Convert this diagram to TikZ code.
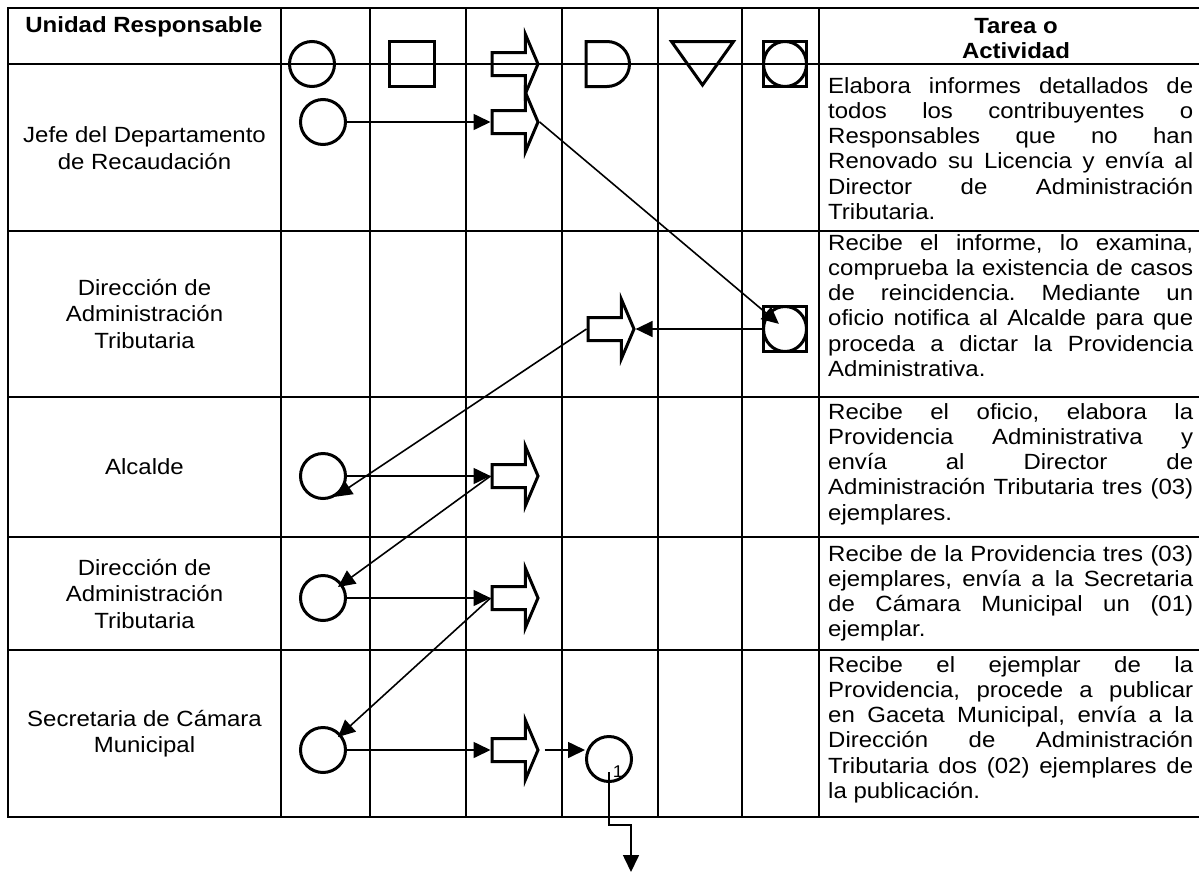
\documentclass[tikz,border=0pt]{standalone}
\usepackage{fontspec}
\setmainfont{Liberation Sans}[FakeStretch=1.09]
\usetikzlibrary{arrows.meta,shapes.arrows,calc}
\frenchspacing
\newcommand{\jline}[1]{\makebox[365pt][s]{#1}}
\newcommand{\tsize}{\fontsize{22pt}{25.3pt}\selectfont}
\newcommand{\lsize}{\fontsize{22pt}{26.5pt}\selectfont}
\tikzset{
  grid/.style={line width=2pt, line cap=rect},
  sym/.style={draw, line width=3pt},
  circ/.style={sym, circle, minimum size=45pt, inner sep=0pt},
  barrow/.style={sym, single arrow, anchor=tail, inner xsep=0pt, inner ysep=10pt,
    text height=0pt, text depth=0pt, minimum height=46pt, minimum width=57pt,
    single arrow head extend=18pt, single arrow tip angle=134},
  sqc/.style={sym, rectangle, inner sep=0pt, minimum width=43pt, minimum height=45pt,
    path picture={\draw[line width=3pt] (path picture bounding box.center)
      ellipse [x radius=21.5pt, y radius=22.5pt];}},
  conn/.style={line width=1.6pt, -{Triangle[length=17pt,width=16pt]}},
  lbl/.style={font=\lsize, align=center, inner sep=0pt},
  task/.style={font=\tsize, anchor=base west, inner sep=0pt},
  head/.style={font=\tsize\bfseries, anchor=base, inner sep=0pt},
}
\begin{document}
\begin{tikzpicture}[x=1pt, y=-1pt, line join=miter]
\useasboundingbox (0,0) rectangle (1199,873);
% table grid
\foreach \x in {8,281,370,466,562,658,742,819}
  \draw[grid] (\x,8) -- (\x,817);
\foreach \y in {8,64,231,397,537,650,817}
  \draw[grid] (8,\y) -- (1199,\y);

% header texts
\node[head] (hU) at (144,32) {Unidad Responsable};
\node[head] (hT) at (1016,33) {\begin{tabular}[t]{@{}c@{}}Tarea o\\Actividad\end{tabular}};

% header symbols
\node[circ] (h1) at (312,64) {};
\draw[line width=3pt] (389,41.5) rectangle (434,86.5);
\node[barrow] (h3) at (490.5,64) {};
\draw[line width=3pt] (586,41.5) -- (607,41.5) arc[start angle=90, end angle=-90, radius=22.5pt] -- (586,86.5) -- cycle;
\draw[line width=3pt] (671.5,41.5) -- (733.5,41.5) -- (702.5,85) -- cycle;
\node[sqc] (h6) at (785,64) {};

% row labels
\node[lbl] (l1) at (144.5,148) {Jefe del Departamento\\de Recaudación};
\node[lbl] (l2) at (144.5,314) {Dirección de\\Administración\\Tributaria};
\node[lbl] (l3) at (144.5,467) {Alcalde};
\node[lbl] (l4) at (144.5,593.5) {Dirección de\\Administración\\Tributaria};
\node[lbl] (l5) at (144.5,733.5) {Secretaria de Cámara\\Municipal};

% task texts
\node[task] (t1) at (828,93) {\parbox[t]{365pt}{\tsize
\jline{Elabora informes detallados de}\\
\jline{todos los contribuyentes o}\\
\jline{Responsables que no han}\\
\jline{Renovado su Licencia y envía al}\\
\jline{Director de Administración}\\
Tributaria.}};
\node[task] (t2) at (828,250) {\parbox[t]{365pt}{\tsize
\jline{Recibe el informe, lo examina,}\\
\jline{comprueba la existencia de casos}\\
\jline{de reincidencia. Mediante un}\\
\jline{oficio notifica al Alcalde para que}\\
\jline{proceda a dictar la Providencia}\\
Administrativa.}};
\node[task] (t3) at (828,419) {\parbox[t]{365pt}{\tsize
\jline{Recibe el oficio, elabora la}\\
\jline{Providencia Administrativa y}\\
\jline{envía al Director de}\\
\jline{Administración Tributaria tres (03)}\\
ejemplares.}};
\node[task] (t4) at (828,561) {\parbox[t]{365pt}{\tsize
\jline{Recibe de la Providencia tres (03)}\\
\jline{ejemplares, envía a la Secretaria}\\
\jline{de Cámara Municipal un (01)}\\
ejemplar.}};
\node[task] (t5) at (828,672) {\parbox[t]{365pt}{\tsize
\jline{Recibe el ejemplar de la}\\
\jline{Providencia, procede a publicar}\\
\jline{en Gaceta Municipal, envía a la}\\
\jline{Dirección de Administración}\\
\jline{Tributaria dos (02) ejemplares de}\\
la publicación.}};

% flow symbols
\node[circ] (c1) at (323,122) {};
\node[barrow] (b1) at (490.5,122) {};
\node[sqc] (sc1) at (785,329) {};
\node[barrow] (b2) at (586.5,329) {};
\node[circ] (c3) at (323,476) {};
\node[barrow] (b3) at (490.5,476) {};
\node[circ] (c4) at (323,598) {};
\node[barrow] (b4) at (490.5,598) {};
\node[circ] (c5) at (323,750) {};
\node[barrow] (b5) at (490.5,750) {};
\node[circ] (c6) at (609,759) {};
\node[font=\fontsize{17pt}{17pt}\selectfont, inner sep=0pt] (n1) at (618,772) {1};
\coordinate (out) at (631,872);

% connectors
\draw[conn] (c1) -- (b1.tail);
\draw[conn, shorten >=8pt] (b1.tip) -- (sc1.center);
\draw[conn] (sc1.west) -- (b2.tip);
\draw[conn] (b2.tail) -- (c3.-60);
\draw[conn] (c3) -- (b3.tail);
\draw[conn] (b3.tail) -- ($(c4.center)+(15,-11)$);
\draw[conn] (c4) -- (b4.tail);
\draw[conn] (b4.tail) -- ($(c5.center)+(15,-13)$);
\draw[conn] (c5) -- (b5.tail);
\draw[conn] ($(b5.tip)+(5,0)$) -- (b5.tip -| c6.west);
\draw[conn] ($(c6.center)+(0,13)$) -- ($(c6.center)+(0,66)$) -| (out);
\end{tikzpicture}
\end{document}
